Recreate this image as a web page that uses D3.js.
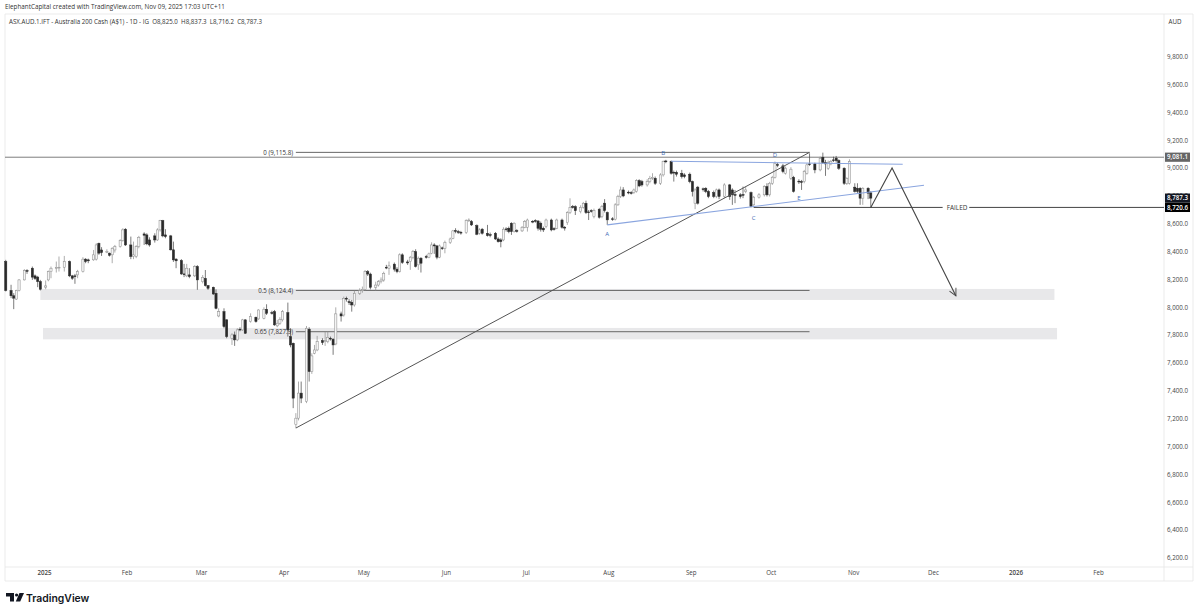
<!DOCTYPE html>
<html>
<head>
<meta charset="utf-8">
<script src="https://cdn.jsdelivr.net/npm/d3@7"></script>
<style>
    html, body { margin: 0; padding: 0; background: #fff; overflow: hidden; }
    text { font-family: "Open Sans", sans-serif; fill: #333; }
    .domain { display: none; }
    .tick line { display: none; }
</style>
</head>
<body>
<div id="chart"></div>
<script>
// days since 2025-01-01
var barDay = [
    -14,-12,-11,-10,-9,-7,-6,-4,-3,-2, -1,1,2,3,5,6,8,10,11,12,
    13,15,16,17,19,20,21,22,24,25, 26,27,29,30,31,33,34,35,36,38,
    39,40,42,43,44,45,46,48,49,50, 52,53,54,55,57,58,60,61,62,64,
    65,66,68,69,71,72,73,74,75,76, 78,80,81,83,84,86,87,88,89,90,
    92,93,94,95,96,97,99,100,101,102, 103,105,106,107,108,109,110,112,113,114,
    115,116,117,119,120,121,122,123,125,126, 127,128,129,130,132,133,134,135,137,138,
    139,140,141,142,144,145,146,147,148,149, 150,151,153,154,155,156,157,159,160,161,
    163,164,165,167,168,170,171,172,173,174, 175,176,177,178,180,181,182,184,185,186,
    187,188,189,191,192,193,195,196,197,198, 199,200,202,203,204,205,206,207,209,210,
    211,212,214,215,216,217,218,220,221,222, 223,224,225,227,228,229,230,232,233,234,
    236,237,238,240,241,243,244,245,246,248, 249,250,252,253,254,256,258,259,260,262,
    263,264,266,267,269,271,272,273,274,275, 276,278,279,281,282,284,285,286,287,288,
    290,292,293,294,295,296,297,298,299,301, 302,303,305,306,307,308,310,311
];
var barOpen = [
    8332,8124,8086,8062,8124,8200,8267,8284,8229,8220, 8188,8148,8200,8260,8284,8286,8291,8332,8229,8229,
    8236,8260,8349,8344,8344,8349,8463,8415,8404,8392, 8380,8415,8439,8482,8564,8451,8368,8368,8439,8530,
    8523,8487,8516,8487,8559,8626,8523,8516,8416,8349, 8339,8243,8229,8236,8229,8296,8187,8211,8159,8147,
    8104,7941,7972,7913,7781,7805,7769,7846,7841,7913, 7901,7932,7920,7924,7989,7965,7972,7870,7889,7913,
    7965,7793,7745,7160,7207,7387,7327,7846,7542,7673, 7697,7764,7757,7757,7781,7774,7740,7956,7948,8068,
    8044,8039,8020,8104,8123,8132,8259,8242,8147,8163, 8187,8199,8291,8284,8313,8277,8260,8380,8329,8332,
    8363,8403,8308,8356,8368,8363,8391,8451,8444,8363, 8430,8427,8468,8499,8554,8547,8542,8540,8626,8619,
    8590,8535,8564,8535,8525,8535,8494,8487,8487,8566, 8571,8607,8547,8554,8552,8578,8578,8621,8626,8623,
    8607,8571,8583,8630,8568,8571,8630,8578,8611,8683, 8726,8726,8690,8721,8750,8688,8697,8654,8707,8655,
    8751,8684,8639,8636,8739,8799,8846,8830,8827,8827, 8835,8913,8906,8882,8906,8930,8930,8894,8954,9054,
    9050,8973,8973,8966,8954,8959,8906,8751,8866,8854, 8858,8835,8827,8799,8846,8799,8882,8846,8813,8811,
    8813,8835,8827,8739,8794,8811,8870,8811,8894,8937, 9028,9019,8966,8930,8937,8909,8906,8906,8966,9033,
    9033,8990,9081,9042,9002,9033,9062,9074,9057,9002, 8894,8894,8866,8858,8858,8787,8858,8825
];
var barClose = [
    8124,8086,8069,8124,8200,8267,8263,8220,8210,8188, 8133,8157,8260,8284,8289,8291,8332,8229,8212,8224,
    8260,8349,8332,8337,8380,8451,8392,8396,8404,8377, 8427,8439,8482,8559,8451,8368,8380,8439,8506,8521,
    8459,8451,8487,8559,8626,8516,8511,8416,8344,8337, 8243,8239,8284,8224,8296,8200,8218,8159,8140,8099,
    7996,7972,7865,7793,7805,7769,7841,7841,7913,7817, 7936,7901,7984,7989,7960,7960,7877,7889,7917,7972,
    7841,7733,7351,7207,7387,7351,7853,7542,7654,7697, 7757,7750,7764,7788,7776,7733,7956,7941,8068,8063,
    8037,8020,8104,8123,8132,8259,8242,8147,8163,8187, 8199,8247,8286,8301,8277,8260,8380,8325,8322,8363,
    8403,8296,8356,8320,8363,8387,8451,8444,8363,8444, 8425,8468,8494,8552,8549,8542,8537,8626,8630,8595,
    8528,8559,8535,8518,8521,8494,8475,8475,8564,8561, 8547,8547,8607,8549,8578,8619,8630,8616,8621,8571,
    8564,8559,8630,8559,8564,8630,8578,8573,8683,8721, 8724,8697,8721,8750,8683,8683,8693,8697,8650,8727,
    8698,8631,8634,8739,8799,8846,8803,8825,8823,8846, 8913,8875,8882,8906,8930,8937,8894,8954,9050,9052,
    8966,8968,8959,8942,8942,8906,8835,8846,8751,8849, 8835,8799,8799,8846,8799,8882,8799,8811,8808,8799,
    8808,8846,8727,8794,8811,8870,8811,8894,8937,9038, 9023,8978,9002,8995,8835,8904,8901,8978,9026,9028,
    8990,9073,9042,9033,9042,9050,9057,9057,9002,8894, 8928,9050,8835,8835,8787,8858,8823,8787.3
];
var barHigh = [
    8344,8165,8105,8129,8205,8277,8277,8296,8239,8229, 8200,8196,8267,8296,8332,8368,8372,8339,8236,8243,
    8272,8363,8356,8353,8415,8463,8468,8435,8420,8396, 8435,8451,8492,8571,8571,8511,8475,8449,8516,8542,
    8535,8506,8535,8571,8631,8631,8564,8523,8475,8356, 8349,8315,8315,8284,8306,8306,8235,8271,8163,8152,
    8132,7996,7996,7917,7817,7829,7853,7860,7920,7917, 7960,7936,7989,8003,8025,7979,7984,7913,7932,7984,
    8037,7853,7750,7243,7470,7470,7869,7860,7673,7733, 7798,7781,7829,7829,7793,7781,8003,7972,8080,8080,
    8061,8056,8123,8140,8152,8271,8271,8252,8187,8199, 8218,8259,8308,8332,8325,8291,8391,8391,8344,8372,
    8415,8420,8368,8363,8380,8396,8470,8463,8451,8454, 8439,8482,8504,8559,8571,8559,8552,8635,8642,8630,
    8599,8571,8573,8595,8540,8544,8506,8499,8578,8578, 8583,8614,8614,8564,8587,8630,8640,8630,8635,8630,
    8619,8583,8640,8640,8578,8640,8640,8587,8693,8786, 8738,8736,8736,8760,8769,8702,8707,8712,8717,8739,
    8780,8691,8651,8751,8811,8870,8866,8842,8837,8856, 8923,8923,8918,8923,8947,8966,8942,8966,9057,9062,
    9057,8985,8985,8990,8966,8971,8913,8858,8875,8863, 8866,8846,8842,8856,8856,8894,8889,8858,8846,8823,
    8870,8870,8835,8803,8823,8880,8894,8904,8947,9050, 9042,9033,9014,9009,8947,8923,8918,8990,9038,9109,
    9042,9085,9114,9062,9057,9062,9085,9090,9066,9009, 8937,9066,8894,8894,8866,8866,8866,8837.3
];
var barLow = [
    8117,8069,7990,8057,8117,8196,8243,8200,8200,8148, 8124,8133,8190,8212,8253,8260,8260,8220,8200,8172,
    8212,8253,8320,8320,8337,8339,8380,8372,8392,8368, 8320,8396,8432,8475,8444,8349,8349,8356,8427,8451,
    8449,8439,8468,8480,8547,8506,8499,8411,8329,8284, 8236,8220,8220,8212,8220,8129,8175,8152,8128,8092,
    7989,7932,7853,7781,7733,7726,7760,7831,7834,7812, 7893,7893,7913,7917,7948,7951,7870,7860,7877,7901,
    7793,7716,7279,7136,7191,7315,7315,7470,7525,7666, 7688,7733,7726,7745,7764,7662,7731,7901,7936,8044,
    8020,7972,8008,8092,8108,8123,8228,8132,8123,8152, 8175,8187,8277,8236,8260,8248,8253,8315,8308,8272,
    8348,8289,8272,8253,8353,8356,8384,8387,8348,8356, 8415,8391,8458,8492,8535,8530,8525,8530,8616,8587,
    8521,8525,8525,8511,8506,8487,8468,8434,8478,8547, 8535,8523,8540,8540,8544,8571,8547,8607,8611,8554,
    8547,8544,8571,8549,8554,8564,8568,8554,8595,8673, 8712,8666,8678,8712,8673,8630,8683,8642,8640,8643,
    8684,8595,8624,8627,8732,8789,8794,8815,8813,8818, 8827,8866,8870,8870,8894,8918,8882,8882,8942,9038,
    8956,8906,8942,8928,8930,8894,8799,8708,8741,8835, 8823,8787,8787,8787,8780,8787,8775,8739,8751,8784,
    8787,8823,8722,8732,8784,8799,8799,8799,8882,8928, 9009,8966,8956,8918,8827,8889,8846,8894,8956,9019,
    8966,8980,9033,8947,8990,9023,9047,9042,8990,8882, 8882,8885,8827,8823,8739,8739,8780,8716.2
];

var priceTicks = [9800,9600,9400,9200,9000,8800,8600,8400,8200,8000,7800,7600,7400,7200,7000,6800,6600,6400,6200];
var monthDays = [0,31,59,90,120,151,181,212,243,273,304,334,365,396];
var monthLabels = ["2025","Feb","Mar","Apr","May","Jun","Jul","Aug","Sep","Oct","Nov","Dec","2026","Feb"];

// [start day, end day, top price, bottom price]
var zones = [[-1,380,8135,8056],[0,381,7855,7773]];
// fibonacci levels, drawn from the swing low to the swing high
var fibLevels = [9115.8,8124.4,7827.9];
var fibLabels = ["0 (9,115.8)","0.5 (8,124.4)","0.65 (7,827.9)"];
var swingDays = [95,288];
var swingPrices = [7136,9115.8];
var triangleTop = {days:[236,323],prices:[9052,9030]};
var triangleLow = {days:[212,331],prices:[8595,8880]};
var waveLabels = ["A","B","C","D","E"];
var waveDays = [212,233,267,275,284];
var wavePrices = [8515,9095,8630,9085,8775];
var arrowDays = [311,319,343];
var arrowPrices = [8720.6,9004,8085];
var lastPrices = [9081.1,8787.3,8720.6];
var lastColors = ["#666666","#131722","#000000"];

var width = 1200, height = 613;
var plotLeft = 5, plotRight = 1164, plotTop = 14, plotBottom = 567;

var svg = d3.select("#chart").append("svg")
    .attr("width", width)
    .attr("height", height);

function dayDate(d) { return new Date(Date.UTC(2025, 0, 1 + d)); }

var xScale = d3.scaleUtc()
    .domain([dayDate(0), dayDate(396)])
    .range([43, 1097]);
var yScale = d3.scaleLinear()
    .domain([9000, 6200])
    .range([168.5, 558.4]);
function xd(d) { return xScale(dayDate(d)); }

// frame
var frame = "#e6e6e6";
[[plotLeft,plotTop,1193,plotTop],[plotLeft,plotTop,plotLeft,581],[plotRight,plotTop,plotRight,581],
 [1193,plotTop,1193,581],[plotLeft,plotBottom,1193,plotBottom],[plotLeft,581,1193,581]].forEach(function(s) {
    svg.append("line").attr("x1",s[0]).attr("y1",s[1]).attr("x2",s[2]).attr("y2",s[3])
        .attr("stroke",frame).attr("stroke-width",0.8);
});

// supply / demand zones
svg.append("g").selectAll("rect").data(zones).enter().append("rect")
    .attr("x", d => xd(d[0]))
    .attr("y", d => yScale(d[2]))
    .attr("width", d => xd(d[1]) - xd(d[0]))
    .attr("height", d => yScale(d[3]) - yScale(d[2]))
    .attr("fill", "#e8e8ea");

// horizontal levels
function hLine(p, d0, d1, color) {
    svg.append("line")
        .attr("x1", d0 === null ? plotLeft : xd(d0))
        .attr("x2", d1 === null ? plotRight : xd(d1))
        .attr("y1", yScale(p)).attr("y2", yScale(p))
        .attr("stroke", color).attr("stroke-width", 1);
}
hLine(lastPrices[0], null, null, "#7d7d7d");
hLine(lastPrices[2], 267, 338, "#444");
hLine(lastPrices[2], 348, null, "#444");
fibLevels.forEach(function(p) { hLine(p, 95, 288, "#666"); });

// candles
var bars = barDay.map(function(d, i) {
    return {day: d, o: barOpen[i], c: barClose[i], h: barHigh[i], l: barLow[i]};
});
var bodyW = 2.2;
var candles = svg.append("g").selectAll("g").data(bars).enter().append("g");
candles.append("line")
    .attr("x1", d => xd(d.day)).attr("x2", d => xd(d.day))
    .attr("y1", d => yScale(d.h)).attr("y2", d => yScale(d.l))
    .attr("stroke", d => d.c >= d.o ? "#8a8a8a" : "#444")
    .attr("stroke-width", 0.7);
candles.append("rect")
    .attr("x", d => xd(d.day) - bodyW / 2)
    .attr("y", d => yScale(Math.max(d.o, d.c)))
    .attr("width", bodyW)
    .attr("height", d => Math.max(0.8, Math.abs(yScale(d.o) - yScale(d.c))))
    .attr("fill", d => d.c >= d.o ? "#f4f4f4" : "#2a2a2a")
    .attr("stroke", d => d.c >= d.o ? "#8a8a8a" : "#2a2a2a")
    .attr("stroke-width", 0.5);

// swing line
svg.append("line")
    .attr("x1", xd(swingDays[0])).attr("y1", yScale(swingPrices[0]))
    .attr("x2", xd(swingDays[1])).attr("y2", yScale(swingPrices[1]))
    .attr("stroke", "#555").attr("stroke-width", 1);

// triangle
[triangleTop, triangleLow].forEach(function(t) {
    svg.append("line")
        .attr("x1", xd(t.days[0])).attr("y1", yScale(t.prices[0]))
        .attr("x2", xd(t.days[1])).attr("y2", yScale(t.prices[1]))
        .attr("stroke", "#8aa5df").attr("stroke-width", 1.1);
});
svg.append("g").selectAll("text").data(waveLabels).enter().append("text")
    .attr("x", (d, i) => xd(waveDays[i]))
    .attr("y", (d, i) => yScale(wavePrices[i]))
    .attr("text-anchor", "middle")
    .attr("font-size", 6)
    .style("fill", "#3f6cb5")
    .text(d => d);

// projected path
svg.append("defs").append("marker")
    .attr("id", "head")
    .attr("viewBox", "0 0 10 10").attr("refX", 9).attr("refY", 5)
    .attr("markerWidth", 9).attr("markerHeight", 9)
    .attr("markerUnits", "userSpaceOnUse")
    .attr("orient", "auto")
    .append("path").attr("d", "M1,1L9,5L1,9")
    .attr("fill", "none").attr("stroke", "#444").attr("stroke-width", 1);
svg.append("path")
    .attr("d", d3.line().x(d => xd(d)).y((d, i) => yScale(arrowPrices[i]))(arrowDays))
    .attr("fill", "none").attr("stroke", "#444").attr("stroke-width", 1.1)
    .attr("marker-end", "url(#head)");

// labels on the chart
fibLabels.forEach(function(t, i) {
    svg.append("text")
        .attr("x", 293)
        .attr("y", yScale(fibLevels[i]) + 2.2)
        .attr("text-anchor", "end")
        .attr("font-size", 6.2)
        .text(t);
});
svg.append("text").attr("x", 957).attr("y", yScale(lastPrices[2]) + 2.2)
    .attr("text-anchor", "middle").attr("font-size", 6.4).text("FAILED");

// price axis
var yAxis = d3.axisRight(yScale)
    .tickValues(priceTicks)
    .tickSize(0)
    .tickPadding(3)
    .tickFormat(d3.format(",.1f"));
svg.append("g")
    .attr("transform", `translate(${plotRight}, -0.6)`)
    .call(yAxis)
    .call(g => g.selectAll("text").attr("font-size", 6.2).style("font-family", '"Open Sans", sans-serif').style("fill", "#444"));
svg.append("text").attr("x", 1175).attr("y", 24).attr("text-anchor", "middle")
    .attr("font-size", 6.2).text("AUD");

// last price tags
lastPrices.forEach(function(p, i) {
    svg.append("rect").attr("x", plotRight + 1).attr("y", yScale(p) - 4.6)
        .attr("width", 25).attr("height", 9.2).attr("fill", lastColors[i]);
    svg.append("text").attr("x", plotRight + 13.5).attr("y", yScale(p) + 2.2)
        .attr("text-anchor", "middle").attr("font-size", 6.2).attr("font-weight", 600)
        .style("fill", "#fff").text(d3.format(",.1f")(p));
});

// time axis
var xAxis = d3.axisBottom(xScale)
    .tickValues(monthDays.map(dayDate))
    .tickSize(0)
    .tickPadding(4)
    .tickFormat((d, i) => monthLabels[i]);
svg.append("g")
    .attr("transform", `translate(1, ${plotBottom})`)
    .call(xAxis)
    .call(g => g.selectAll("text").attr("font-size", 6.2).style("font-family", '"Open Sans", sans-serif').style("fill", "#444")
        .attr("font-weight", (d, i) => monthLabels[i].length === 4 ? 600 : 400));

// header
svg.append("text").attr("x", 5).attr("y", 8.5).attr("font-size", 6.3)
    .text("ElephantCapital created with TradingView.com, Nov 09, 2025 17:03 UTC+11");
svg.append("text").attr("x", 9).attr("y", 23.5).attr("font-size", 6.2)
    .style("white-space", "pre")
    .text("ASX.AUD.1.IFT - Australia 200 Cash (A$1) - 1D - IG  O8,825.0  H8,837.3  L8,716.2  C8,787.3");

// logo
var logo = svg.append("g").attr("fill", "#131722");
logo.append("path").attr("d", "M6,593H14V601.5H10V596.5H6Z");
logo.append("circle").attr("cx", 16.6).attr("cy", 595).attr("r", 1.6);
logo.append("path").attr("d", "M19.5,593H24L20.2,601.5H15.8Z");
svg.append("text").attr("x", 26).attr("y", 601.5)
    .attr("font-size", 10.4)
    .attr("font-weight", 600)
    .style("font-family", "Inter, sans-serif")
    .style("fill", "#131722")
    .text("TradingView");
</script>
</body>
</html>
